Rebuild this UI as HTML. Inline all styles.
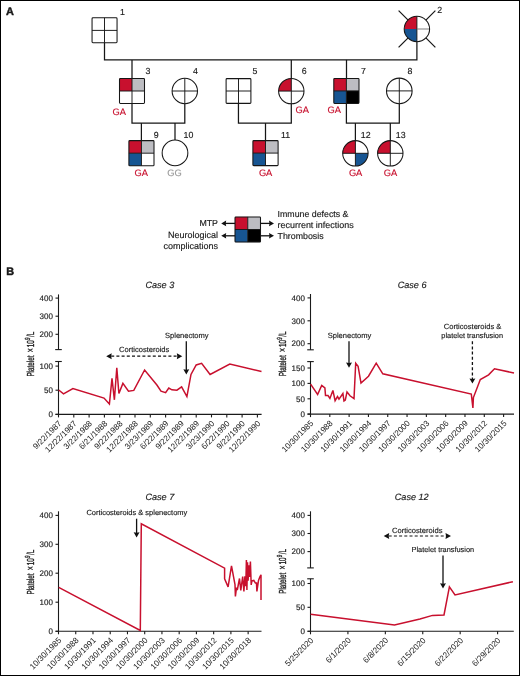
<!DOCTYPE html>
<html><head><meta charset="utf-8"><title>Figure</title>
<style>
html,body{margin:0;padding:0;background:#fff;}
svg{display:block;font-family:"Liberation Sans",sans-serif;will-change:transform;text-rendering:geometricPrecision;}
</style></head>
<body>
<svg width="520" height="676" viewBox="0 0 520 676">
<rect x="0" y="0" width="520" height="676" fill="#fff"/>
<rect x="92.05" y="17.8" width="12.45" height="12.6" fill="#fff"/>
<rect x="104.5" y="17.8" width="12.55" height="12.6" fill="#fff"/>
<rect x="92.05" y="30.4" width="12.45" height="12.35" fill="#fff"/>
<rect x="104.5" y="30.4" width="12.55" height="12.35" fill="#fff"/>
<line x1="104.5" y1="17.8" x2="104.5" y2="42.75" stroke="#161616" stroke-width="0.95" />
<line x1="92.05" y1="30.4" x2="117.05" y2="30.4" stroke="#161616" stroke-width="0.95" />
<rect x="92.05" y="17.8" width="25" height="24.95" rx="0.9" fill="none" stroke="#161616" stroke-width="1.05"/>
<text x="120.1" y="14.7" font-size="8.8" text-anchor="start" fill="#1a1a1a" stroke="#1a1a1a" stroke-width="0.15" >1</text>
<line x1="398.6" y1="10.6" x2="435.4" y2="47.4" stroke="#161616" stroke-width="1.25" />
<line x1="435.4" y1="10.6" x2="398.6" y2="47.4" stroke="#161616" stroke-width="1.25" />
<circle cx="416.9" cy="29" r="12.7" fill="#fff"/>
<path d="M416.9,29 L404.2,29 A12.7,12.7 0 0 1 416.9,16.3 Z" fill="#c8102e"/>
<path d="M416.9,29 L416.9,41.7 A12.7,12.7 0 0 1 404.2,29 Z" fill="#175592"/>
<line x1="416.9" y1="16.3" x2="416.9" y2="41.7" stroke="#161616" stroke-width="0.95" />
<line x1="416.9" y1="29" x2="429.6" y2="29" stroke="#777" stroke-width="0.95" />
<circle cx="416.9" cy="29" r="12.7" fill="none" stroke="#161616" stroke-width="1.05"/>
<text x="437.2" y="12.8" font-size="8.8" text-anchor="start" fill="#1a1a1a" stroke="#1a1a1a" stroke-width="0.15" >2</text>
<path d="M104.5,42.75 V59.9 H416.9 V41.7" fill="none" stroke="#161616" stroke-width="1.25"/>
<line x1="132" y1="59.9" x2="132" y2="78.5" stroke="#161616" stroke-width="1.25" />
<line x1="291.3" y1="59.9" x2="291.3" y2="78.5" stroke="#161616" stroke-width="1.25" />
<line x1="346.5" y1="59.9" x2="346.5" y2="78.5" stroke="#161616" stroke-width="1.25" />
<rect x="119.5" y="78.5" width="12.5" height="12.5" fill="#c8102e"/>
<rect x="132" y="78.5" width="12.5" height="12.5" fill="#bdbdc2"/>
<rect x="119.5" y="91" width="12.5" height="12.5" fill="#fff"/>
<rect x="132" y="91" width="12.5" height="12.5" fill="#fff"/>
<line x1="132" y1="78.5" x2="132" y2="103.5" stroke="#161616" stroke-width="0.95" />
<line x1="119.5" y1="91" x2="144.5" y2="91" stroke="#161616" stroke-width="0.95" />
<rect x="119.5" y="78.5" width="25" height="25" rx="0.9" fill="none" stroke="#161616" stroke-width="1.05"/>
<text x="145.6" y="74.1" font-size="8.8" text-anchor="start" fill="#1a1a1a" stroke="#1a1a1a" stroke-width="0.15" >3</text>
<text x="112.6" y="114.6" font-size="9.3" text-anchor="start" fill="#c8102e" stroke="#c8102e" stroke-width="0.15" >GA</text>
<circle cx="184.8" cy="91" r="12.7" fill="#fff"/>
<line x1="184.8" y1="78.3" x2="184.8" y2="103.7" stroke="#161616" stroke-width="0.95" />
<line x1="172.1" y1="91" x2="197.5" y2="91" stroke="#161616" stroke-width="0.95" />
<circle cx="184.8" cy="91" r="12.7" fill="none" stroke="#161616" stroke-width="1.05"/>
<text x="192.9" y="74.1" font-size="8.8" text-anchor="start" fill="#1a1a1a" stroke="#1a1a1a" stroke-width="0.15" >4</text>
<rect x="226.1" y="78.6" width="12.4" height="12.4" fill="#fff"/>
<rect x="238.5" y="78.6" width="12.4" height="12.4" fill="#fff"/>
<rect x="226.1" y="91" width="12.4" height="12.4" fill="#fff"/>
<rect x="238.5" y="91" width="12.4" height="12.4" fill="#fff"/>
<line x1="238.5" y1="78.6" x2="238.5" y2="103.4" stroke="#161616" stroke-width="0.95" />
<line x1="226.1" y1="91" x2="250.9" y2="91" stroke="#161616" stroke-width="0.95" />
<rect x="226.1" y="78.6" width="24.8" height="24.8" rx="0.9" fill="none" stroke="#161616" stroke-width="1.05"/>
<text x="252.5" y="74.3" font-size="8.8" text-anchor="start" fill="#1a1a1a" stroke="#1a1a1a" stroke-width="0.15" >5</text>
<circle cx="291.3" cy="91.1" r="12.7" fill="#fff"/>
<path d="M291.3,91.1 L278.6,91.1 A12.7,12.7 0 0 1 291.3,78.4 Z" fill="#c8102e"/>
<line x1="291.3" y1="78.4" x2="291.3" y2="103.8" stroke="#161616" stroke-width="0.95" />
<line x1="278.6" y1="91.1" x2="304" y2="91.1" stroke="#161616" stroke-width="0.95" />
<circle cx="291.3" cy="91.1" r="12.7" fill="none" stroke="#161616" stroke-width="1.05"/>
<text x="301.8" y="74.1" font-size="8.8" text-anchor="start" fill="#1a1a1a" stroke="#1a1a1a" stroke-width="0.15" >6</text>
<text x="295.5" y="112.9" font-size="9.3" text-anchor="start" fill="#c8102e" stroke="#c8102e" stroke-width="0.15" >GA</text>
<rect x="333.8" y="78.4" width="12.6" height="12.5" fill="#c8102e"/>
<rect x="346.4" y="78.4" width="12.6" height="12.5" fill="#bdbdc2"/>
<rect x="333.8" y="90.9" width="12.6" height="12.5" fill="#175592"/>
<rect x="346.4" y="90.9" width="12.6" height="12.5" fill="#000"/>
<line x1="346.4" y1="78.4" x2="346.4" y2="103.4" stroke="#161616" stroke-width="0.95" />
<line x1="333.8" y1="90.9" x2="359" y2="90.9" stroke="#161616" stroke-width="0.95" />
<rect x="333.8" y="78.4" width="25.2" height="25" rx="0.9" fill="none" stroke="#161616" stroke-width="1.05"/>
<text x="361" y="74.3" font-size="8.8" text-anchor="start" fill="#1a1a1a" stroke="#1a1a1a" stroke-width="0.15" >7</text>
<text x="327.6" y="112.9" font-size="9.3" text-anchor="start" fill="#c8102e" stroke="#c8102e" stroke-width="0.15" >GA</text>
<circle cx="399.3" cy="90.9" r="12.8" fill="#fff"/>
<line x1="399.3" y1="78.1" x2="399.3" y2="103.7" stroke="#161616" stroke-width="0.95" />
<line x1="386.5" y1="90.9" x2="412.1" y2="90.9" stroke="#161616" stroke-width="0.95" />
<circle cx="399.3" cy="90.9" r="12.8" fill="none" stroke="#161616" stroke-width="1.05"/>
<text x="407.5" y="74.3" font-size="8.8" text-anchor="start" fill="#1a1a1a" stroke="#1a1a1a" stroke-width="0.15" >8</text>
<path d="M132,103.5 V123.1 H184.8 V103.7" fill="none" stroke="#161616" stroke-width="1.25"/>
<path d="M238.45,103.5 V123.1 H291.3 V103.7" fill="none" stroke="#161616" stroke-width="1.25"/>
<path d="M346.4,103.5 V123.1 H399.3 V103.7" fill="none" stroke="#161616" stroke-width="1.25"/>
<line x1="141.4" y1="123.1" x2="141.4" y2="140.6" stroke="#161616" stroke-width="1.25" />
<line x1="175" y1="123.1" x2="175" y2="140.6" stroke="#161616" stroke-width="1.25" />
<line x1="265.5" y1="123.1" x2="265.5" y2="140.6" stroke="#161616" stroke-width="1.25" />
<line x1="355.4" y1="123.1" x2="355.4" y2="140.6" stroke="#161616" stroke-width="1.25" />
<line x1="390.3" y1="123.1" x2="390.3" y2="140.6" stroke="#161616" stroke-width="1.25" />
<rect x="128.9" y="140.6" width="12.55" height="12.6" fill="#c8102e"/>
<rect x="141.45" y="140.6" width="12.55" height="12.6" fill="#bdbdc2"/>
<rect x="128.9" y="153.2" width="12.55" height="12.6" fill="#175592"/>
<rect x="141.45" y="153.2" width="12.55" height="12.6" fill="#fff"/>
<line x1="141.45" y1="140.6" x2="141.45" y2="165.8" stroke="#161616" stroke-width="0.95" />
<line x1="128.9" y1="153.2" x2="154" y2="153.2" stroke="#161616" stroke-width="0.95" />
<rect x="128.9" y="140.6" width="25.1" height="25.2" rx="0.9" fill="none" stroke="#161616" stroke-width="1.05"/>
<text x="153.8" y="137.8" font-size="8.8" text-anchor="start" fill="#1a1a1a" stroke="#1a1a1a" stroke-width="0.15" >9</text>
<text x="134.6" y="176.2" font-size="9.3" text-anchor="start" fill="#c8102e" stroke="#c8102e" stroke-width="0.15" >GA</text>
<circle cx="175" cy="152.9" r="12.85" fill="#fff"/>
<circle cx="175" cy="152.9" r="12.85" fill="none" stroke="#161616" stroke-width="1.05"/>
<text x="183.5" y="137.6" font-size="8.8" text-anchor="start" fill="#1a1a1a" stroke="#1a1a1a" stroke-width="0.15" >10</text>
<text x="167.3" y="176" font-size="9.3" text-anchor="start" fill="#999" stroke="#999" stroke-width="0.15" >GG</text>
<rect x="252.9" y="140.6" width="12.6" height="12.5" fill="#c8102e"/>
<rect x="265.5" y="140.6" width="12.6" height="12.5" fill="#bdbdc2"/>
<rect x="252.9" y="153.1" width="12.6" height="12.5" fill="#175592"/>
<rect x="265.5" y="153.1" width="12.6" height="12.5" fill="#fff"/>
<line x1="265.5" y1="140.6" x2="265.5" y2="165.6" stroke="#161616" stroke-width="0.95" />
<line x1="252.9" y1="153.1" x2="278.1" y2="153.1" stroke="#161616" stroke-width="0.95" />
<rect x="252.9" y="140.6" width="25.2" height="25" rx="0.9" fill="none" stroke="#161616" stroke-width="1.05"/>
<text x="281" y="137.6" font-size="8.8" text-anchor="start" fill="#1a1a1a" stroke="#1a1a1a" stroke-width="0.15" >11</text>
<text x="258.9" y="176.2" font-size="9.3" text-anchor="start" fill="#c8102e" stroke="#c8102e" stroke-width="0.15" >GA</text>
<circle cx="355.4" cy="153.3" r="12.7" fill="#fff"/>
<path d="M355.4,153.3 L342.7,153.3 A12.7,12.7 0 0 1 355.4,140.6 Z" fill="#c8102e"/>
<path d="M355.4,153.3 L368.1,153.3 A12.7,12.7 0 0 1 355.4,166 Z" fill="#175592"/>
<line x1="355.4" y1="140.6" x2="355.4" y2="166" stroke="#161616" stroke-width="0.95" />
<line x1="342.7" y1="153.3" x2="368.1" y2="153.3" stroke="#161616" stroke-width="0.95" />
<circle cx="355.4" cy="153.3" r="12.7" fill="none" stroke="#161616" stroke-width="1.05"/>
<text x="360.8" y="137.7" font-size="8.8" text-anchor="start" fill="#1a1a1a" stroke="#1a1a1a" stroke-width="0.15" >12</text>
<text x="348.9" y="176.2" font-size="9.3" text-anchor="start" fill="#c8102e" stroke="#c8102e" stroke-width="0.15" >GA</text>
<circle cx="390.3" cy="153.3" r="12.7" fill="#fff"/>
<path d="M390.3,153.3 L377.6,153.3 A12.7,12.7 0 0 1 390.3,140.6 Z" fill="#c8102e"/>
<line x1="390.3" y1="140.6" x2="390.3" y2="166" stroke="#161616" stroke-width="0.95" />
<line x1="377.6" y1="153.3" x2="403" y2="153.3" stroke="#161616" stroke-width="0.95" />
<circle cx="390.3" cy="153.3" r="12.7" fill="none" stroke="#161616" stroke-width="1.05"/>
<text x="395.8" y="137.7" font-size="8.8" text-anchor="start" fill="#1a1a1a" stroke="#1a1a1a" stroke-width="0.15" >13</text>
<text x="383.8" y="176.2" font-size="9.3" text-anchor="start" fill="#c8102e" stroke="#c8102e" stroke-width="0.15" >GA</text>
<rect x="235" y="216.9" width="12.75" height="12.6" fill="#c8102e"/>
<rect x="247.75" y="216.9" width="12.75" height="12.6" fill="#bdbdc2"/>
<rect x="235" y="229.5" width="12.75" height="12.6" fill="#175592"/>
<rect x="247.75" y="229.5" width="12.75" height="12.6" fill="#000"/>
<line x1="247.75" y1="216.9" x2="247.75" y2="242.1" stroke="#161616" stroke-width="0.95" />
<line x1="235" y1="229.5" x2="260.5" y2="229.5" stroke="#161616" stroke-width="0.95" />
<rect x="235" y="216.9" width="25.5" height="25.2" rx="0.9" fill="none" stroke="#161616" stroke-width="1.05"/>
<line x1="235" y1="223.4" x2="224.2" y2="223.4" stroke="#111" stroke-width="1.3" />
<path d="M221.2,223.4 L226.2,220.6 L225.7,223.4 L226.2,226.2 Z" fill="#111"/>
<line x1="235" y1="235.8" x2="224.2" y2="235.8" stroke="#111" stroke-width="1.3" />
<path d="M221.2,235.8 L226.2,233 L225.7,235.8 L226.2,238.6 Z" fill="#111"/>
<line x1="260.5" y1="223.4" x2="271" y2="223.4" stroke="#111" stroke-width="1.3" />
<path d="M274,223.4 L269,220.6 L269.5,223.4 L269,226.2 Z" fill="#111"/>
<line x1="260.5" y1="235.8" x2="271" y2="235.8" stroke="#111" stroke-width="1.3" />
<path d="M274,235.8 L269,233 L269.5,235.8 L269,238.6 Z" fill="#111"/>
<text x="218" y="225.6" font-size="8.8" text-anchor="end" fill="#1a1a1a" stroke="#1a1a1a" stroke-width="0.15" >MTP</text>
<text x="218" y="237.8" font-size="9.0" text-anchor="end" fill="#1a1a1a" stroke="#1a1a1a" stroke-width="0.15" >Neurological</text>
<text x="218" y="248.7" font-size="9.0" text-anchor="end" fill="#1a1a1a" stroke="#1a1a1a" stroke-width="0.15" >complications</text>
<text x="277.6" y="217.1" font-size="8.8" text-anchor="start" fill="#1a1a1a" stroke="#1a1a1a" stroke-width="0.15" >Immune defects &amp;</text>
<text x="277.6" y="227.9" font-size="8.95" text-anchor="start" fill="#1a1a1a" stroke="#1a1a1a" stroke-width="0.15" >recurrent infections</text>
<text x="277.6" y="238.5" font-size="8.8" text-anchor="start" fill="#1a1a1a" stroke="#1a1a1a" stroke-width="0.15" >Thrombosis</text>
<text x="5.9" y="14.7" font-size="10.9" text-anchor="start" fill="#1a1a1a" stroke="#1a1a1a" stroke-width="0.45" font-weight="bold">A</text>
<text x="6.2" y="275" font-size="10.9" text-anchor="start" fill="#1a1a1a" stroke="#1a1a1a" stroke-width="0.45" font-weight="bold">B</text>
<text x="145.4" y="287.9" font-size="9.1" text-anchor="start" fill="#1a1a1a" stroke="#1a1a1a" stroke-width="0.15" font-style="italic">Case 3</text>
<line x1="58.5" y1="294.4" x2="58.5" y2="349.6" stroke="#1a1a1a" stroke-width="1.1" />
<line x1="55.2" y1="349.6" x2="61.8" y2="349.6" stroke="#1a1a1a" stroke-width="1.1" />
<line x1="55.5" y1="298.1" x2="58.5" y2="298.1" stroke="#1a1a1a" stroke-width="1.1" />
<text x="52.9" y="300.8" font-size="8.0" text-anchor="end" fill="#1a1a1a" stroke="#1a1a1a" stroke-width="0.15" >400</text>
<line x1="55.5" y1="316.2" x2="58.5" y2="316.2" stroke="#1a1a1a" stroke-width="1.1" />
<text x="52.9" y="318.9" font-size="8.0" text-anchor="end" fill="#1a1a1a" stroke="#1a1a1a" stroke-width="0.15" >300</text>
<line x1="55.5" y1="334.3" x2="58.5" y2="334.3" stroke="#1a1a1a" stroke-width="1.1" />
<text x="52.9" y="337" font-size="8.0" text-anchor="end" fill="#1a1a1a" stroke="#1a1a1a" stroke-width="0.15" >200</text>
<line x1="58.5" y1="361.5" x2="58.5" y2="414.4" stroke="#1a1a1a" stroke-width="1.1" />
<line x1="55.2" y1="361.5" x2="61.8" y2="361.5" stroke="#1a1a1a" stroke-width="1.1" />
<line x1="55.5" y1="366.1" x2="58.5" y2="366.1" stroke="#1a1a1a" stroke-width="1.1" />
<text x="52.9" y="368.8" font-size="8.0" text-anchor="end" fill="#1a1a1a" stroke="#1a1a1a" stroke-width="0.15" >100</text>
<line x1="55.5" y1="390.2" x2="58.5" y2="390.2" stroke="#1a1a1a" stroke-width="1.1" />
<text x="52.9" y="392.9" font-size="8.0" text-anchor="end" fill="#1a1a1a" stroke="#1a1a1a" stroke-width="0.15" >50</text>
<line x1="55.5" y1="414.4" x2="58.5" y2="414.4" stroke="#1a1a1a" stroke-width="1.1" />
<text x="52.9" y="417.1" font-size="8.0" text-anchor="end" fill="#1a1a1a" stroke="#1a1a1a" stroke-width="0.15" >0</text>
<text transform="translate(34,376.6) rotate(-90) scale(0.62,1)" font-size="10.2" fill="#1a1a1a" stroke="#1a1a1a" stroke-width="0.35">Platelet<tspan dx="5.16" font-size="11.22">×</tspan><tspan dx="1.61">10</tspan><tspan font-size="7.34" dy="-3.6" dx="0.32">9</tspan><tspan dy="3.6" dx="0.81">/L</tspan></text>
<line x1="55.5" y1="414.4" x2="261.6" y2="414.4" stroke="#1a1a1a" stroke-width="1.1" />
<line x1="58.5" y1="414.4" x2="58.5" y2="417.4" stroke="#1a1a1a" stroke-width="1.1" />
<text transform="translate(62,424) rotate(-45)" font-size="8.2" text-anchor="end" fill="#1a1a1a" stroke="#1a1a1a" stroke-width="0.0">9/22/1987</text>
<line x1="73.8" y1="414.4" x2="73.8" y2="417.4" stroke="#1a1a1a" stroke-width="1.1" />
<text transform="translate(77.3,424) rotate(-45)" font-size="8.2" text-anchor="end" fill="#1a1a1a" stroke="#1a1a1a" stroke-width="0.0">12/22/1987</text>
<line x1="89.1" y1="414.4" x2="89.1" y2="417.4" stroke="#1a1a1a" stroke-width="1.1" />
<text transform="translate(92.6,424) rotate(-45)" font-size="8.2" text-anchor="end" fill="#1a1a1a" stroke="#1a1a1a" stroke-width="0.0">3/22/1988</text>
<line x1="104.4" y1="414.4" x2="104.4" y2="417.4" stroke="#1a1a1a" stroke-width="1.1" />
<text transform="translate(107.9,424) rotate(-45)" font-size="8.2" text-anchor="end" fill="#1a1a1a" stroke="#1a1a1a" stroke-width="0.0">6/21/1988</text>
<line x1="119.7" y1="414.4" x2="119.7" y2="417.4" stroke="#1a1a1a" stroke-width="1.1" />
<text transform="translate(123.2,424) rotate(-45)" font-size="8.2" text-anchor="end" fill="#1a1a1a" stroke="#1a1a1a" stroke-width="0.0">9/22/1988</text>
<line x1="135" y1="414.4" x2="135" y2="417.4" stroke="#1a1a1a" stroke-width="1.1" />
<text transform="translate(138.5,424) rotate(-45)" font-size="8.2" text-anchor="end" fill="#1a1a1a" stroke="#1a1a1a" stroke-width="0.0">12/22/1988</text>
<line x1="150.3" y1="414.4" x2="150.3" y2="417.4" stroke="#1a1a1a" stroke-width="1.1" />
<text transform="translate(153.8,424) rotate(-45)" font-size="8.2" text-anchor="end" fill="#1a1a1a" stroke="#1a1a1a" stroke-width="0.0">3/23/1989</text>
<line x1="165.6" y1="414.4" x2="165.6" y2="417.4" stroke="#1a1a1a" stroke-width="1.1" />
<text transform="translate(169.1,424) rotate(-45)" font-size="8.2" text-anchor="end" fill="#1a1a1a" stroke="#1a1a1a" stroke-width="0.0">6/22/1989</text>
<line x1="180.9" y1="414.4" x2="180.9" y2="417.4" stroke="#1a1a1a" stroke-width="1.1" />
<text transform="translate(184.4,424) rotate(-45)" font-size="8.2" text-anchor="end" fill="#1a1a1a" stroke="#1a1a1a" stroke-width="0.0">9/22/1989</text>
<line x1="196.2" y1="414.4" x2="196.2" y2="417.4" stroke="#1a1a1a" stroke-width="1.1" />
<text transform="translate(199.7,424) rotate(-45)" font-size="8.2" text-anchor="end" fill="#1a1a1a" stroke="#1a1a1a" stroke-width="0.0">12/22/1989</text>
<line x1="211.5" y1="414.4" x2="211.5" y2="417.4" stroke="#1a1a1a" stroke-width="1.1" />
<text transform="translate(215,424) rotate(-45)" font-size="8.2" text-anchor="end" fill="#1a1a1a" stroke="#1a1a1a" stroke-width="0.0">3/23/1990</text>
<line x1="226.8" y1="414.4" x2="226.8" y2="417.4" stroke="#1a1a1a" stroke-width="1.1" />
<text transform="translate(230.3,424) rotate(-45)" font-size="8.2" text-anchor="end" fill="#1a1a1a" stroke="#1a1a1a" stroke-width="0.0">6/22/1990</text>
<line x1="242.1" y1="414.4" x2="242.1" y2="417.4" stroke="#1a1a1a" stroke-width="1.1" />
<text transform="translate(245.6,424) rotate(-45)" font-size="8.2" text-anchor="end" fill="#1a1a1a" stroke="#1a1a1a" stroke-width="0.0">9/22/1990</text>
<line x1="257.4" y1="414.4" x2="257.4" y2="417.4" stroke="#1a1a1a" stroke-width="1.1" />
<text transform="translate(260.9,424) rotate(-45)" font-size="8.2" text-anchor="end" fill="#1a1a1a" stroke="#1a1a1a" stroke-width="0.0">12/22/1990</text>
<text x="119" y="352.1" font-size="7.55" text-anchor="start" fill="#1a1a1a" stroke="#1a1a1a" stroke-width="0.15" >Corticosteroids</text>
<line x1="111.2" y1="356.2" x2="177.3" y2="356.2" stroke="#111" stroke-width="1.2" stroke-dasharray="3 2.2"/>
<path d="M106.2,356.2 L111.7,353.2 L111.2,356.2 L111.7,359.2 Z" fill="#111"/>
<path d="M182.3,356.2 L176.8,353.2 L177.3,356.2 L176.8,359.2 Z" fill="#111"/>
<text x="165" y="338.1" font-size="7.55" text-anchor="start" fill="#1a1a1a" stroke="#1a1a1a" stroke-width="0.15" >Splenectomy</text>
<line x1="186.3" y1="341.2" x2="186.3" y2="371.28" stroke="#111" stroke-width="1.3" />
<path d="M186.3,374.4 L183.35,369.2 L186.3,369.72 L189.25,369.2 Z" fill="#111"/>
<polyline points="58.7,390 63.5,393.8 72.9,388.5 104,398.1 109.4,404 112,378.3 114.4,399.8 116.8,367.8 118.9,393.5 122.9,383.4 128.5,391.2 133.8,390.4 144.6,370 156.9,385 161,391.2 165.6,392.7 168.8,388 171.9,389.8 176.9,390.2 181.6,386.9 186.9,396.6 191,374.4 196.2,365 201.6,363.3 210.1,374.5 229.8,364.1 261.5,371.5" fill="none" stroke="#c8102e" stroke-width="1.5" stroke-linejoin="miter" stroke-miterlimit="3"/>
<text x="397.7" y="287.9" font-size="9.1" text-anchor="start" fill="#1a1a1a" stroke="#1a1a1a" stroke-width="0.15" font-style="italic">Case 6</text>
<line x1="310.5" y1="294" x2="310.5" y2="349.8" stroke="#1a1a1a" stroke-width="1.1" />
<line x1="307.2" y1="349.8" x2="313.8" y2="349.8" stroke="#1a1a1a" stroke-width="1.1" />
<line x1="307.5" y1="297.9" x2="310.5" y2="297.9" stroke="#1a1a1a" stroke-width="1.1" />
<text x="304.9" y="300.6" font-size="8.0" text-anchor="end" fill="#1a1a1a" stroke="#1a1a1a" stroke-width="0.15" >400</text>
<line x1="307.5" y1="320.8" x2="310.5" y2="320.8" stroke="#1a1a1a" stroke-width="1.1" />
<text x="304.9" y="323.5" font-size="8.0" text-anchor="end" fill="#1a1a1a" stroke="#1a1a1a" stroke-width="0.15" >300</text>
<line x1="307.5" y1="343.7" x2="310.5" y2="343.7" stroke="#1a1a1a" stroke-width="1.1" />
<text x="304.9" y="346.4" font-size="8.0" text-anchor="end" fill="#1a1a1a" stroke="#1a1a1a" stroke-width="0.15" >200</text>
<line x1="310.5" y1="361.6" x2="310.5" y2="414.1" stroke="#1a1a1a" stroke-width="1.1" />
<line x1="307.2" y1="361.6" x2="313.8" y2="361.6" stroke="#1a1a1a" stroke-width="1.1" />
<line x1="307.5" y1="368" x2="310.5" y2="368" stroke="#1a1a1a" stroke-width="1.1" />
<text x="304.9" y="370.7" font-size="8.0" text-anchor="end" fill="#1a1a1a" stroke="#1a1a1a" stroke-width="0.15" >150</text>
<line x1="307.5" y1="383.4" x2="310.5" y2="383.4" stroke="#1a1a1a" stroke-width="1.1" />
<text x="304.9" y="386.1" font-size="8.0" text-anchor="end" fill="#1a1a1a" stroke="#1a1a1a" stroke-width="0.15" >100</text>
<line x1="307.5" y1="398.8" x2="310.5" y2="398.8" stroke="#1a1a1a" stroke-width="1.1" />
<text x="304.9" y="401.5" font-size="8.0" text-anchor="end" fill="#1a1a1a" stroke="#1a1a1a" stroke-width="0.15" >50</text>
<line x1="307.5" y1="414.1" x2="310.5" y2="414.1" stroke="#1a1a1a" stroke-width="1.1" />
<text x="304.9" y="416.8" font-size="8.0" text-anchor="end" fill="#1a1a1a" stroke="#1a1a1a" stroke-width="0.15" >0</text>
<text transform="translate(286,376.3) rotate(-90) scale(0.62,1)" font-size="10.2" fill="#1a1a1a" stroke="#1a1a1a" stroke-width="0.35">Platelet<tspan dx="5.16" font-size="11.22">×</tspan><tspan dx="1.61">10</tspan><tspan font-size="7.34" dy="-3.6" dx="0.32">9</tspan><tspan dy="3.6" dx="0.81">/L</tspan></text>
<line x1="307.5" y1="414.1" x2="514" y2="414.1" stroke="#1a1a1a" stroke-width="1.1" />
<line x1="310.5" y1="414.1" x2="310.5" y2="417.1" stroke="#1a1a1a" stroke-width="1.1" />
<text transform="translate(314,423.7) rotate(-45)" font-size="8.2" text-anchor="end" fill="#1a1a1a" stroke="#1a1a1a" stroke-width="0.0">10/30/1985</text>
<line x1="329.81" y1="414.1" x2="329.81" y2="417.1" stroke="#1a1a1a" stroke-width="1.1" />
<text transform="translate(333.31,423.7) rotate(-45)" font-size="8.2" text-anchor="end" fill="#1a1a1a" stroke="#1a1a1a" stroke-width="0.0">10/30/1988</text>
<line x1="349.12" y1="414.1" x2="349.12" y2="417.1" stroke="#1a1a1a" stroke-width="1.1" />
<text transform="translate(352.62,423.7) rotate(-45)" font-size="8.2" text-anchor="end" fill="#1a1a1a" stroke="#1a1a1a" stroke-width="0.0">10/30/1991</text>
<line x1="368.43" y1="414.1" x2="368.43" y2="417.1" stroke="#1a1a1a" stroke-width="1.1" />
<text transform="translate(371.93,423.7) rotate(-45)" font-size="8.2" text-anchor="end" fill="#1a1a1a" stroke="#1a1a1a" stroke-width="0.0">10/30/1994</text>
<line x1="387.74" y1="414.1" x2="387.74" y2="417.1" stroke="#1a1a1a" stroke-width="1.1" />
<text transform="translate(391.24,423.7) rotate(-45)" font-size="8.2" text-anchor="end" fill="#1a1a1a" stroke="#1a1a1a" stroke-width="0.0">10/30/1997</text>
<line x1="407.05" y1="414.1" x2="407.05" y2="417.1" stroke="#1a1a1a" stroke-width="1.1" />
<text transform="translate(410.55,423.7) rotate(-45)" font-size="8.2" text-anchor="end" fill="#1a1a1a" stroke="#1a1a1a" stroke-width="0.0">10/30/2000</text>
<line x1="426.36" y1="414.1" x2="426.36" y2="417.1" stroke="#1a1a1a" stroke-width="1.1" />
<text transform="translate(429.86,423.7) rotate(-45)" font-size="8.2" text-anchor="end" fill="#1a1a1a" stroke="#1a1a1a" stroke-width="0.0">10/30/2003</text>
<line x1="445.67" y1="414.1" x2="445.67" y2="417.1" stroke="#1a1a1a" stroke-width="1.1" />
<text transform="translate(449.17,423.7) rotate(-45)" font-size="8.2" text-anchor="end" fill="#1a1a1a" stroke="#1a1a1a" stroke-width="0.0">10/30/2006</text>
<line x1="464.98" y1="414.1" x2="464.98" y2="417.1" stroke="#1a1a1a" stroke-width="1.1" />
<text transform="translate(468.48,423.7) rotate(-45)" font-size="8.2" text-anchor="end" fill="#1a1a1a" stroke="#1a1a1a" stroke-width="0.0">10/30/2009</text>
<line x1="484.29" y1="414.1" x2="484.29" y2="417.1" stroke="#1a1a1a" stroke-width="1.1" />
<text transform="translate(487.79,423.7) rotate(-45)" font-size="8.2" text-anchor="end" fill="#1a1a1a" stroke="#1a1a1a" stroke-width="0.0">10/30/2012</text>
<line x1="503.6" y1="414.1" x2="503.6" y2="417.1" stroke="#1a1a1a" stroke-width="1.1" />
<text transform="translate(507.1,423.7) rotate(-45)" font-size="8.2" text-anchor="end" fill="#1a1a1a" stroke="#1a1a1a" stroke-width="0.0">10/30/2015</text>
<text x="327.7" y="338.1" font-size="7.55" text-anchor="start" fill="#1a1a1a" stroke="#1a1a1a" stroke-width="0.15" >Splenectomy</text>
<line x1="349" y1="341.2" x2="349" y2="364.58" stroke="#111" stroke-width="1.3" />
<path d="M349,367.7 L346.05,362.5 L349,363.02 L351.95,362.5 Z" fill="#111"/>
<text x="472.6" y="328.5" font-size="7.55" text-anchor="middle" fill="#1a1a1a" stroke="#1a1a1a" stroke-width="0.15" >Corticosteroids &amp;</text>
<text x="472.2" y="337.8" font-size="7.35" text-anchor="middle" fill="#1a1a1a" stroke="#1a1a1a" stroke-width="0.15" >platelet transfusion</text>
<line x1="472.4" y1="341.2" x2="472.4" y2="380.48" stroke="#111" stroke-width="1.3" stroke-dasharray="3 2.2"/>
<path d="M472.4,383.6 L469.45,378.4 L472.4,378.92 L475.35,378.4 Z" fill="#111"/>
<polyline points="310.6,384.1 317.6,394.5 321.7,385.4 324.9,388 325.5,395.6 328,395.6 329.9,398.4 332.9,390.4 335.1,400.7 337.5,396.6 339,399.2 342.9,393.6 344,401 345.3,400.1 347,391.9 350,395.8 354,398.6 355.7,363.2 358.1,366.3 361,383.1 368.5,376.2 376.2,363.1 382.8,373.8 471.3,394 472.9,408 473.4,397.6 480.3,379.5 488.6,374.8 494.5,368.7 514,373" fill="none" stroke="#c8102e" stroke-width="1.5" stroke-linejoin="miter" stroke-miterlimit="3"/>
<text x="145.4" y="500.4" font-size="9.1" text-anchor="start" fill="#1a1a1a" stroke="#1a1a1a" stroke-width="0.15" font-style="italic">Case 7</text>
<line x1="58.5" y1="511.3" x2="58.5" y2="631.3" stroke="#1a1a1a" stroke-width="1.1" />
<line x1="55.5" y1="515.4" x2="58.5" y2="515.4" stroke="#1a1a1a" stroke-width="1.1" />
<text x="52.9" y="518.1" font-size="8.0" text-anchor="end" fill="#1a1a1a" stroke="#1a1a1a" stroke-width="0.15" >400</text>
<line x1="55.5" y1="544.3" x2="58.5" y2="544.3" stroke="#1a1a1a" stroke-width="1.1" />
<text x="52.9" y="547" font-size="8.0" text-anchor="end" fill="#1a1a1a" stroke="#1a1a1a" stroke-width="0.15" >300</text>
<line x1="55.5" y1="573.2" x2="58.5" y2="573.2" stroke="#1a1a1a" stroke-width="1.1" />
<text x="52.9" y="575.9" font-size="8.0" text-anchor="end" fill="#1a1a1a" stroke="#1a1a1a" stroke-width="0.15" >200</text>
<line x1="55.5" y1="602.2" x2="58.5" y2="602.2" stroke="#1a1a1a" stroke-width="1.1" />
<text x="52.9" y="604.9" font-size="8.0" text-anchor="end" fill="#1a1a1a" stroke="#1a1a1a" stroke-width="0.15" >100</text>
<line x1="55.5" y1="631.3" x2="58.5" y2="631.3" stroke="#1a1a1a" stroke-width="1.1" />
<text x="52.9" y="634" font-size="8.0" text-anchor="end" fill="#1a1a1a" stroke="#1a1a1a" stroke-width="0.15" >0</text>
<text transform="translate(34,594.5) rotate(-90) scale(0.62,1)" font-size="10.2" fill="#1a1a1a" stroke="#1a1a1a" stroke-width="0.35">Platelet<tspan dx="5.16" font-size="11.22">×</tspan><tspan dx="1.61">10</tspan><tspan font-size="7.34" dy="-3.6" dx="0.32">9</tspan><tspan dy="3.6" dx="0.81">/L</tspan></text>
<line x1="55.5" y1="631.3" x2="261.5" y2="631.3" stroke="#1a1a1a" stroke-width="1.1" />
<line x1="58.5" y1="631.3" x2="58.5" y2="634.3" stroke="#1a1a1a" stroke-width="1.1" />
<text transform="translate(62,640.9) rotate(-45)" font-size="8.2" text-anchor="end" fill="#1a1a1a" stroke="#1a1a1a" stroke-width="0.0">10/30/1985</text>
<line x1="75.74" y1="631.3" x2="75.74" y2="634.3" stroke="#1a1a1a" stroke-width="1.1" />
<text transform="translate(79.24,640.9) rotate(-45)" font-size="8.2" text-anchor="end" fill="#1a1a1a" stroke="#1a1a1a" stroke-width="0.0">10/30/1988</text>
<line x1="92.98" y1="631.3" x2="92.98" y2="634.3" stroke="#1a1a1a" stroke-width="1.1" />
<text transform="translate(96.48,640.9) rotate(-45)" font-size="8.2" text-anchor="end" fill="#1a1a1a" stroke="#1a1a1a" stroke-width="0.0">10/30/1991</text>
<line x1="110.22" y1="631.3" x2="110.22" y2="634.3" stroke="#1a1a1a" stroke-width="1.1" />
<text transform="translate(113.72,640.9) rotate(-45)" font-size="8.2" text-anchor="end" fill="#1a1a1a" stroke="#1a1a1a" stroke-width="0.0">10/30/1994</text>
<line x1="127.46" y1="631.3" x2="127.46" y2="634.3" stroke="#1a1a1a" stroke-width="1.1" />
<text transform="translate(130.96,640.9) rotate(-45)" font-size="8.2" text-anchor="end" fill="#1a1a1a" stroke="#1a1a1a" stroke-width="0.0">10/30/1997</text>
<line x1="144.7" y1="631.3" x2="144.7" y2="634.3" stroke="#1a1a1a" stroke-width="1.1" />
<text transform="translate(148.2,640.9) rotate(-45)" font-size="8.2" text-anchor="end" fill="#1a1a1a" stroke="#1a1a1a" stroke-width="0.0">10/30/2000</text>
<line x1="161.94" y1="631.3" x2="161.94" y2="634.3" stroke="#1a1a1a" stroke-width="1.1" />
<text transform="translate(165.44,640.9) rotate(-45)" font-size="8.2" text-anchor="end" fill="#1a1a1a" stroke="#1a1a1a" stroke-width="0.0">10/30/2003</text>
<line x1="179.18" y1="631.3" x2="179.18" y2="634.3" stroke="#1a1a1a" stroke-width="1.1" />
<text transform="translate(182.68,640.9) rotate(-45)" font-size="8.2" text-anchor="end" fill="#1a1a1a" stroke="#1a1a1a" stroke-width="0.0">10/30/2006</text>
<line x1="196.42" y1="631.3" x2="196.42" y2="634.3" stroke="#1a1a1a" stroke-width="1.1" />
<text transform="translate(199.92,640.9) rotate(-45)" font-size="8.2" text-anchor="end" fill="#1a1a1a" stroke="#1a1a1a" stroke-width="0.0">10/30/2009</text>
<line x1="213.66" y1="631.3" x2="213.66" y2="634.3" stroke="#1a1a1a" stroke-width="1.1" />
<text transform="translate(217.16,640.9) rotate(-45)" font-size="8.2" text-anchor="end" fill="#1a1a1a" stroke="#1a1a1a" stroke-width="0.0">10/30/2012</text>
<line x1="230.9" y1="631.3" x2="230.9" y2="634.3" stroke="#1a1a1a" stroke-width="1.1" />
<text transform="translate(234.4,640.9) rotate(-45)" font-size="8.2" text-anchor="end" fill="#1a1a1a" stroke="#1a1a1a" stroke-width="0.0">10/30/2015</text>
<line x1="248.14" y1="631.3" x2="248.14" y2="634.3" stroke="#1a1a1a" stroke-width="1.1" />
<text transform="translate(251.64,640.9) rotate(-45)" font-size="8.2" text-anchor="end" fill="#1a1a1a" stroke="#1a1a1a" stroke-width="0.0">10/30/2018</text>
<text x="86.4" y="515.3" font-size="7.48" text-anchor="start" fill="#1a1a1a" stroke="#1a1a1a" stroke-width="0.15" >Corticosteroids &amp; splenectomy</text>
<line x1="136.6" y1="518.7" x2="136.6" y2="534.38" stroke="#111" stroke-width="1.3" />
<path d="M136.6,537.5 L133.65,532.3 L136.6,532.82 L139.55,532.3 Z" fill="#111"/>
<polyline points="58.7,587.3 140.3,630.5 141.3,523.8 224.6,568.1 224.6,578.8 228.1,586.9 231.5,565.8 235,584.6 235.4,596.5 236.5,587.7 237.3,590 239.5,578.5 240.8,590.4 242.7,576.5 243.9,591.5 244.9,576.2 245.8,586.2 246.4,560 246.9,590 247.5,562.3 248.1,580.8 248.8,565.4 249.6,576.9 250.4,561.5 251.2,585 251.9,580.8 253.8,580.4 255.4,583.1 256.5,583.1 256.9,591.5 258.5,580.4 260,576.5 261,574.8 261,599.9" fill="none" stroke="#c8102e" stroke-width="1.5" stroke-linejoin="miter" stroke-miterlimit="3"/>
<text x="394.8" y="500.4" font-size="9.1" text-anchor="start" fill="#1a1a1a" stroke="#1a1a1a" stroke-width="0.15" font-style="italic">Case 12</text>
<line x1="310.5" y1="511.3" x2="310.5" y2="567.9" stroke="#1a1a1a" stroke-width="1.1" />
<line x1="307.2" y1="567.9" x2="313.8" y2="567.9" stroke="#1a1a1a" stroke-width="1.1" />
<line x1="307.5" y1="515.4" x2="310.5" y2="515.4" stroke="#1a1a1a" stroke-width="1.1" />
<text x="304.9" y="518.1" font-size="8.0" text-anchor="end" fill="#1a1a1a" stroke="#1a1a1a" stroke-width="0.15" >400</text>
<line x1="307.5" y1="533.5" x2="310.5" y2="533.5" stroke="#1a1a1a" stroke-width="1.1" />
<text x="304.9" y="536.2" font-size="8.0" text-anchor="end" fill="#1a1a1a" stroke="#1a1a1a" stroke-width="0.15" >300</text>
<line x1="307.5" y1="551.6" x2="310.5" y2="551.6" stroke="#1a1a1a" stroke-width="1.1" />
<text x="304.9" y="554.3" font-size="8.0" text-anchor="end" fill="#1a1a1a" stroke="#1a1a1a" stroke-width="0.15" >200</text>
<line x1="310.5" y1="578.8" x2="310.5" y2="631.3" stroke="#1a1a1a" stroke-width="1.1" />
<line x1="307.2" y1="578.8" x2="313.8" y2="578.8" stroke="#1a1a1a" stroke-width="1.1" />
<line x1="307.5" y1="583.5" x2="310.5" y2="583.5" stroke="#1a1a1a" stroke-width="1.1" />
<text x="304.9" y="586.2" font-size="8.0" text-anchor="end" fill="#1a1a1a" stroke="#1a1a1a" stroke-width="0.15" >100</text>
<line x1="307.5" y1="607.3" x2="310.5" y2="607.3" stroke="#1a1a1a" stroke-width="1.1" />
<text x="304.9" y="610" font-size="8.0" text-anchor="end" fill="#1a1a1a" stroke="#1a1a1a" stroke-width="0.15" >50</text>
<line x1="307.5" y1="631.3" x2="310.5" y2="631.3" stroke="#1a1a1a" stroke-width="1.1" />
<text x="304.9" y="634" font-size="8.0" text-anchor="end" fill="#1a1a1a" stroke="#1a1a1a" stroke-width="0.15" >0</text>
<text transform="translate(286,593.8) rotate(-90) scale(0.62,1)" font-size="10.2" fill="#1a1a1a" stroke="#1a1a1a" stroke-width="0.35">Platelet<tspan dx="5.16" font-size="11.22">×</tspan><tspan dx="1.61">10</tspan><tspan font-size="7.34" dy="-3.6" dx="0.32">9</tspan><tspan dy="3.6" dx="0.81">/L</tspan></text>
<line x1="307.5" y1="631.3" x2="513.8" y2="631.3" stroke="#1a1a1a" stroke-width="1.1" />
<line x1="310.5" y1="631.3" x2="310.5" y2="634.3" stroke="#1a1a1a" stroke-width="1.1" />
<text transform="translate(314,640.9) rotate(-45)" font-size="8.2" text-anchor="end" fill="#1a1a1a" stroke="#1a1a1a" stroke-width="0.0">5/25/2020</text>
<line x1="347.92" y1="631.3" x2="347.92" y2="634.3" stroke="#1a1a1a" stroke-width="1.1" />
<text transform="translate(351.42,640.9) rotate(-45)" font-size="8.2" text-anchor="end" fill="#1a1a1a" stroke="#1a1a1a" stroke-width="0.0">6/1/2020</text>
<line x1="385.34" y1="631.3" x2="385.34" y2="634.3" stroke="#1a1a1a" stroke-width="1.1" />
<text transform="translate(388.84,640.9) rotate(-45)" font-size="8.2" text-anchor="end" fill="#1a1a1a" stroke="#1a1a1a" stroke-width="0.0">6/8/2020</text>
<line x1="422.76" y1="631.3" x2="422.76" y2="634.3" stroke="#1a1a1a" stroke-width="1.1" />
<text transform="translate(426.26,640.9) rotate(-45)" font-size="8.2" text-anchor="end" fill="#1a1a1a" stroke="#1a1a1a" stroke-width="0.0">6/15/2020</text>
<line x1="460.18" y1="631.3" x2="460.18" y2="634.3" stroke="#1a1a1a" stroke-width="1.1" />
<text transform="translate(463.68,640.9) rotate(-45)" font-size="8.2" text-anchor="end" fill="#1a1a1a" stroke="#1a1a1a" stroke-width="0.0">6/22/2020</text>
<line x1="497.6" y1="631.3" x2="497.6" y2="634.3" stroke="#1a1a1a" stroke-width="1.1" />
<text transform="translate(501.1,640.9) rotate(-45)" font-size="8.2" text-anchor="end" fill="#1a1a1a" stroke="#1a1a1a" stroke-width="0.0">6/29/2020</text>
<text x="392.1" y="532.7" font-size="7.55" text-anchor="start" fill="#1a1a1a" stroke="#1a1a1a" stroke-width="0.15" >Corticosteroids</text>
<line x1="388.7" y1="536" x2="446" y2="536" stroke="#111" stroke-width="1.2" stroke-dasharray="3 2.2"/>
<path d="M383.7,536 L389.2,533 L388.7,536 L389.2,539 Z" fill="#111"/>
<path d="M451,536 L445.5,533 L446,536 L445.5,539 Z" fill="#111"/>
<text x="411.6" y="551.9" font-size="7.35" text-anchor="start" fill="#1a1a1a" stroke="#1a1a1a" stroke-width="0.15" >Platelet transfusion</text>
<line x1="443" y1="555.6" x2="443" y2="585.38" stroke="#111" stroke-width="1.3" />
<path d="M443,588.5 L440.05,583.3 L443,583.82 L445.95,583.3 Z" fill="#111"/>
<polyline points="310.6,614.3 394.5,625 420,619 432.5,615.4 444,615 449.4,586.9 455,595 512.9,581.7" fill="none" stroke="#c8102e" stroke-width="1.5" stroke-linejoin="miter" stroke-miterlimit="3"/>
<rect x="0.5" y="0.5" width="519" height="675" fill="none" stroke="#000" stroke-width="1"/>
</svg>
</body></html>
